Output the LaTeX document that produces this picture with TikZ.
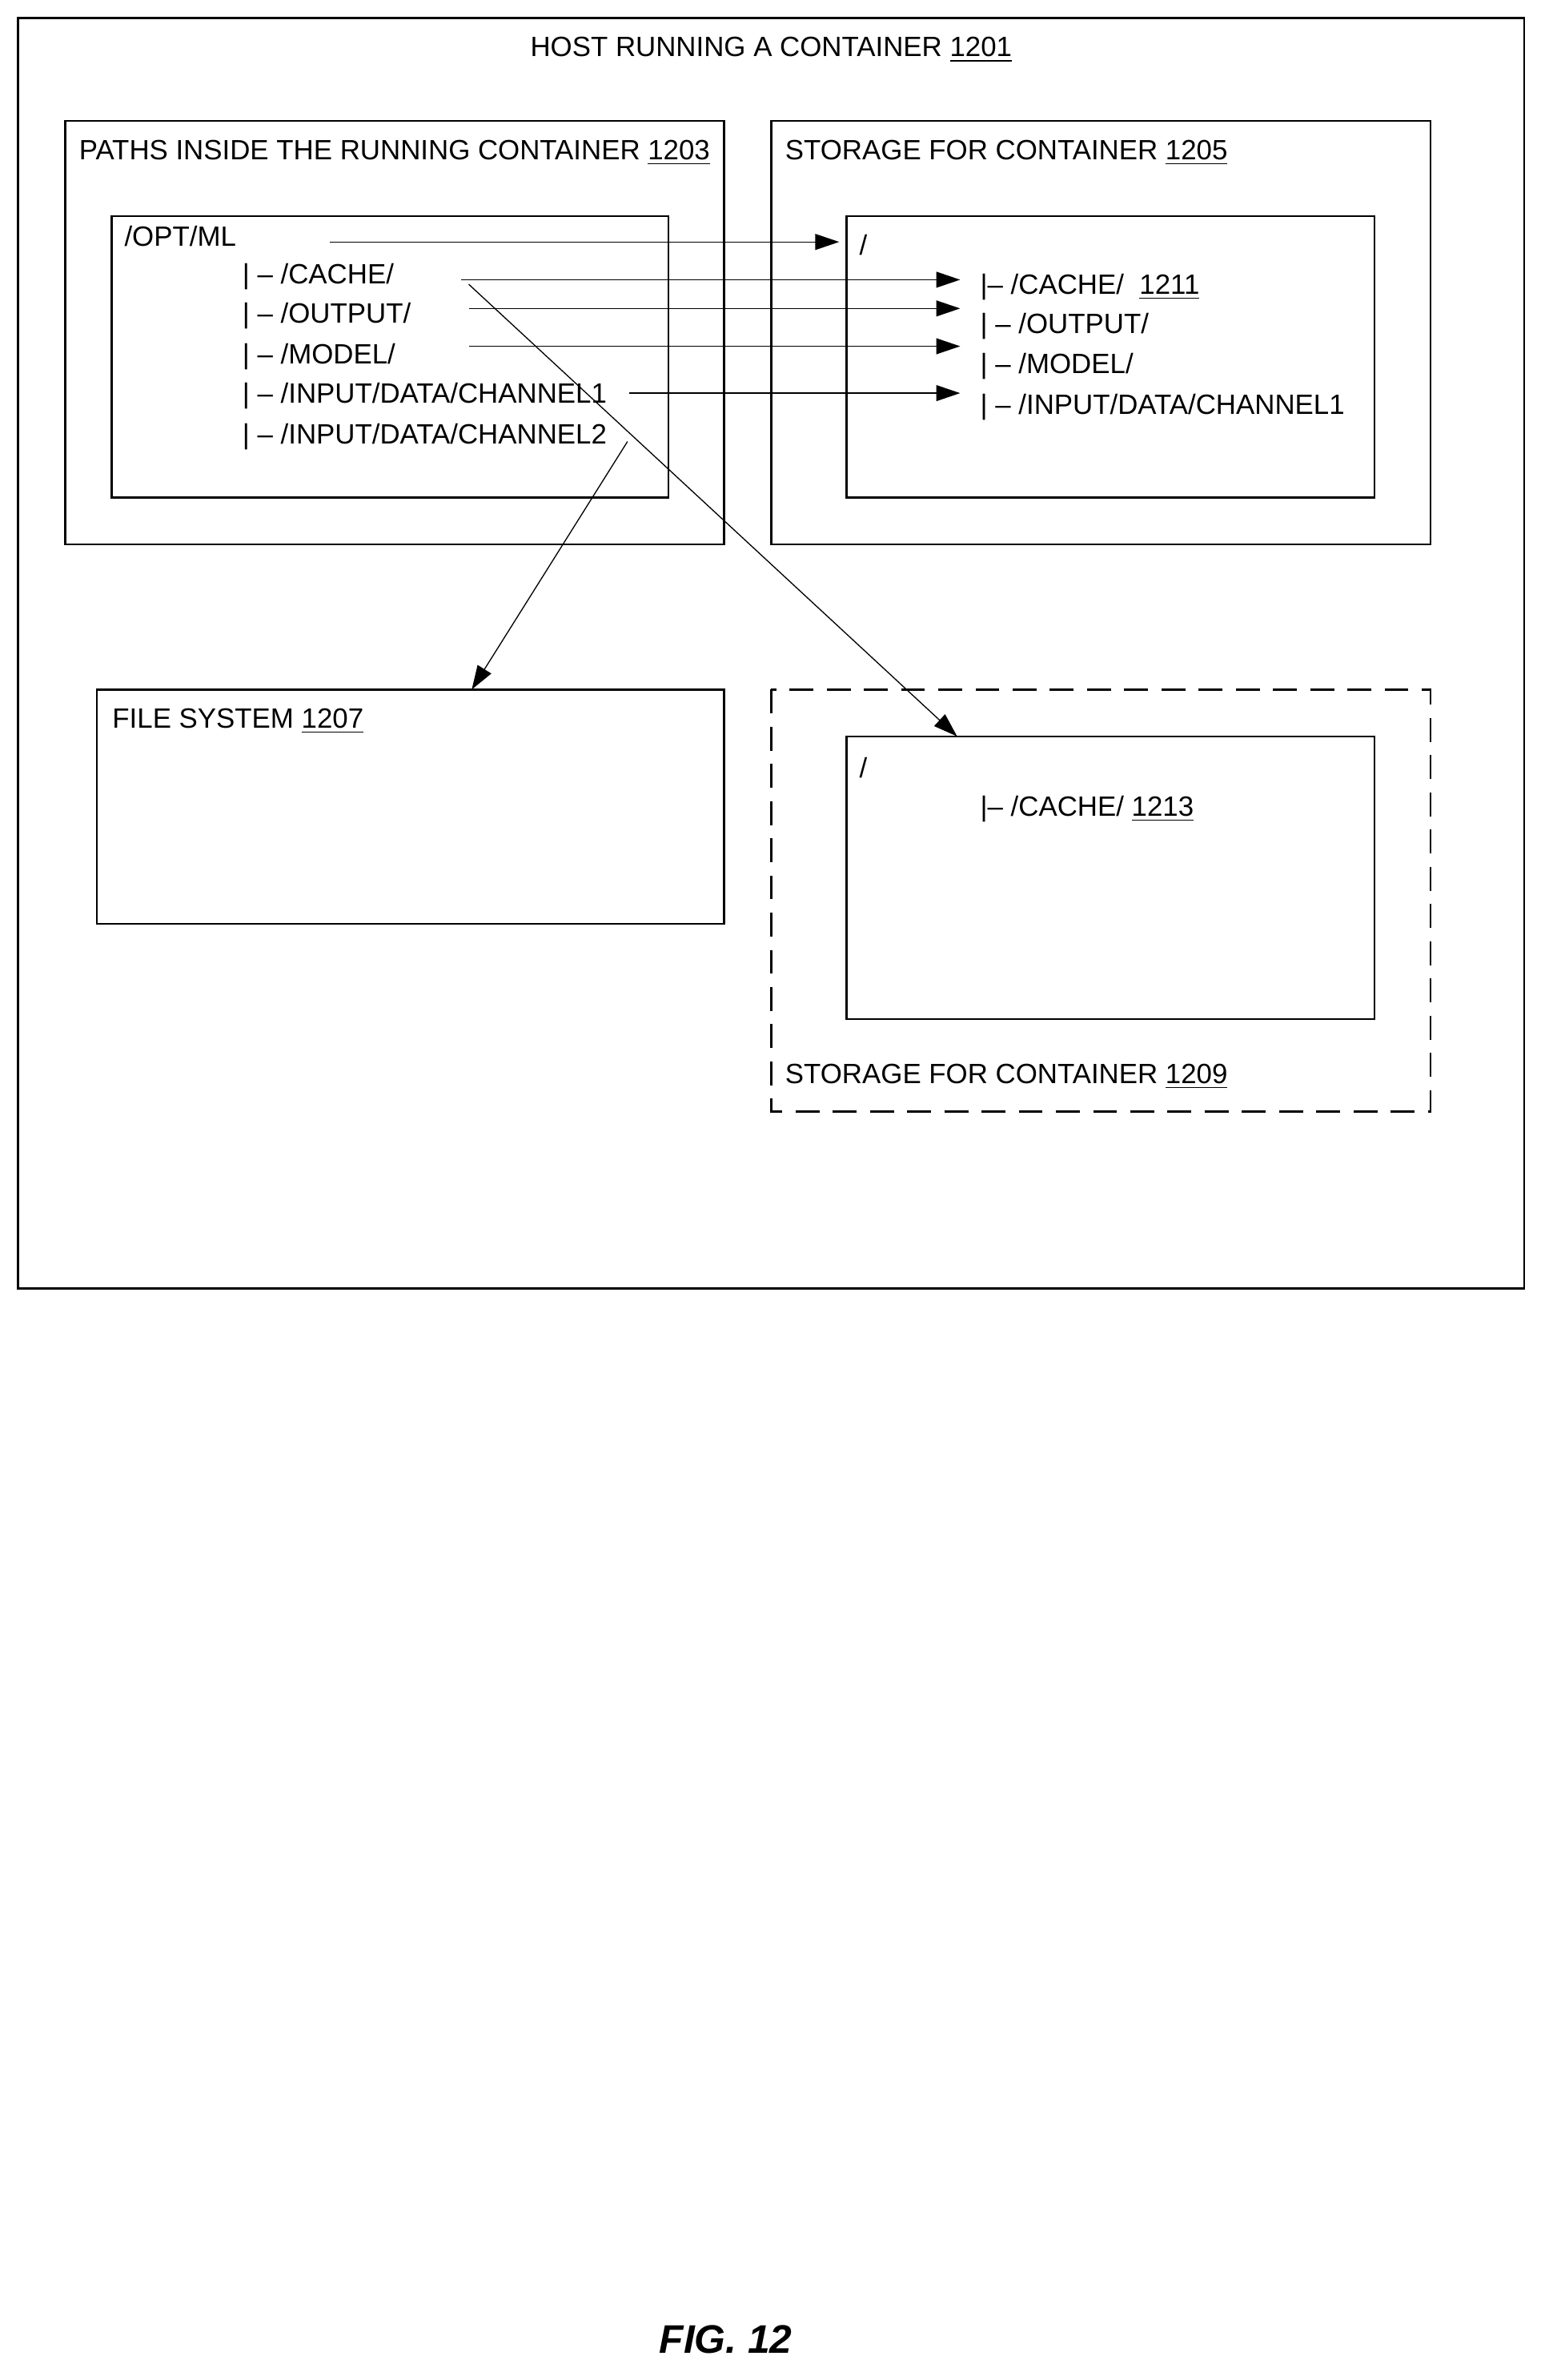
\documentclass[tikz,border=0pt]{standalone}
\usepackage{fontspec}
\setmainfont{Liberation Sans}
\usetikzlibrary{arrows.meta}
\begin{document}
\begin{tikzpicture}%
	[x=0.02cm, y=-0.02cm,
	box/.style={draw=black, thick},
	dashbox/.style={draw=black, thick, dash pattern=on 9pt off 5pt},
	label/.style={anchor=west, inner sep=0pt, font=\fontsize{10.5}{12}\selectfont},
	link/.style={thin, -{Triangle[length=9pt,width=6pt]}}]
	%
	\useasboundingbox (0,0) rectangle (1024,1574);
	%% boxes
	\draw[box] (12,12) rectangle (1008,852);
	\draw[box] (43,80) rectangle (479,360);
	\draw[box] (74,143) rectangle (442,329);
	\draw[box] (510,80) rectangle (946,360);
	\draw[box] (560,143) rectangle (909,329);
	\draw[box] (64,456) rectangle (479,611);
	\draw[dashbox] (510,456) rectangle (946,735);
	\draw[box] (560,487) rectangle (909,674);
	%% texts
	\node[label, anchor=center] (host) at (510,33) {HOST RUNNING A CONTAINER \underline{1201}};
	\node[label] (paths) at (52,101) {PATHS INSIDE THE RUNNING CONTAINER \underline{1203}};
	\node[label] (stor) at (519,101) {STORAGE FOR CONTAINER \underline{1205}};
	\node[label] (fs) at (74,477) {FILE SYSTEM \underline{1207}};
	\node[label] (stortwo) at (519,712) {STORAGE FOR CONTAINER \underline{1209}};
	\node[label] (opt) at (82,156) {/OPT/ML};
	\node[label] (cache) at (160,183) {| -- /CACHE/};
	\node[label] (output) at (160,209) {| -- /OUTPUT/};
	\node[label] (model) at (160,236) {| -- /MODEL/};
	\node[label] (chone) at (160,262) {| -- /INPUT/DATA/CHANNEL1};
	\node[label] (chtwo) at (160,289) {| -- /INPUT/DATA/CHANNEL2};
	\node[label] (root) at (568,162) {/};
	\node[label] (rcache) at (648,190) {|-- /CACHE/~~\underline{1211}};
	\node[label] (routput) at (648,216) {| -- /OUTPUT/};
	\node[label] (rmodel) at (648,242) {| -- /MODEL/};
	\node[label] (rchone) at (648,269) {| -- /INPUT/DATA/CHANNEL1};
	\node[label] (roottwo) at (568,508) {/};
	\node[label] (rcachetwo) at (648,535) {|-- /CACHE/ \underline{1213}};
	\node[anchor=center, font=\fontsize{15}{18}\selectfont\bfseries\itshape] (fig) at (480,1547) {FIG. 12};
	%% connector ends
	\coordinate (a1) at (218,160);  \coordinate (b1) at (555,160);
	\coordinate (a2) at (305,185);  \coordinate (b2) at (635,185);
	\coordinate (a3) at (310,204);  \coordinate (b3) at (635,204);
	\coordinate (a4) at (310,229);  \coordinate (b4) at (635,229);
	\coordinate (a5) at (416,260);  \coordinate (b5) at (635,260);
	\coordinate (a6) at (310,188);  \coordinate (b6) at (633,487);
	\coordinate (a7) at (415,292);  \coordinate (b7) at (312,456);
	\foreach \i in {1,...,7}
		\draw[link] (a\i) -- (b\i);
\end{tikzpicture}
\end{document}
